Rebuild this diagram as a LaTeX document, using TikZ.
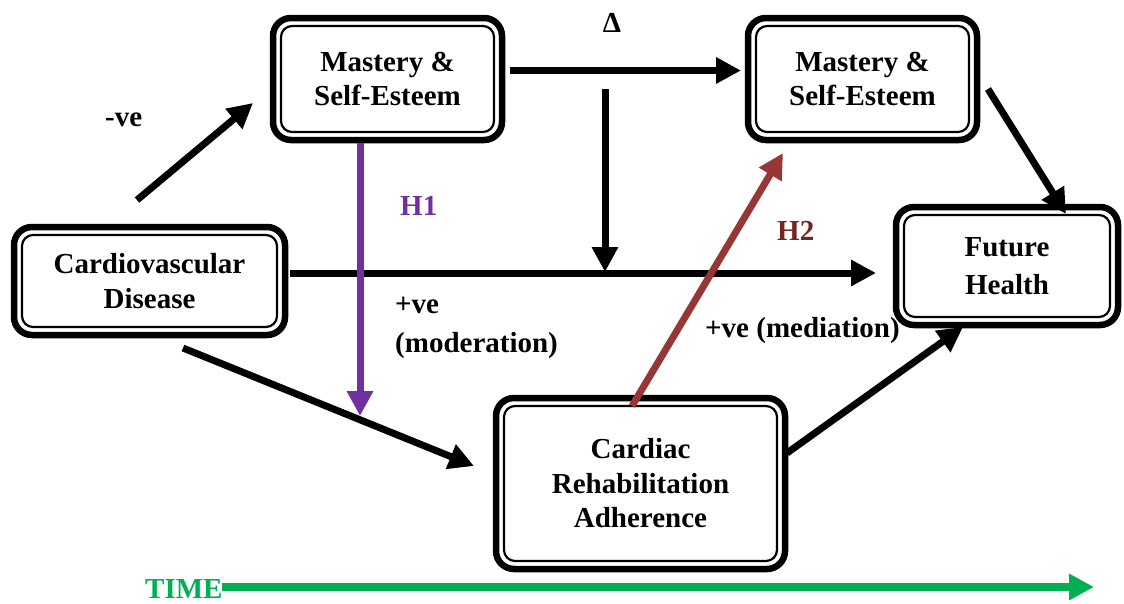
\documentclass[tikz,border=0pt]{standalone}
\usepackage{fontspec}
\setmainfont{Liberation Serif}
\usetikzlibrary{arrows.meta}
\definecolor{hpurple}{HTML}{7030A0}
\definecolor{hbrown}{HTML}{953735}
\definecolor{hbrowntext}{HTML}{722626}
\definecolor{hgreen}{HTML}{00B050}
\begin{document}
\begin{tikzpicture}[x=1pt,y=-1pt,
  box/.style={draw, line width=6.5pt, rounded corners=18pt, outer sep=0pt, inner sep=0pt,
    align=center, font=\fontsize{29}{34.5}\selectfont\bfseries},
  innerline/.style={draw, line width=2.2pt, rounded corners=11pt},
  lbl/.style={inner sep=0pt, font=\fontsize{29}{39}\selectfont\bfseries},
  conn/.style={line width=7pt, -{Triangle[length=25pt,width=25pt]}},
]
\useasboundingbox (0,0) rectangle (1124,603);

% boxes
\node[box, minimum width=229pt, minimum height=122pt] (m1) at (387.5,79) {Mastery \&\\Self-Esteem};
\node[box, minimum width=229pt, minimum height=122pt] (m2) at (862.5,79) {Mastery \&\\Self-Esteem};
\node[box, minimum width=271pt, minimum height=108pt] (cvd) at (149.5,281) {Cardiovascular\\Disease};
\node[box, minimum width=222pt, minimum height=118pt, font=\fontsize{29}{38}\selectfont\bfseries] (fh) at (1007,266) {Future\\Health};
\node[box, minimum width=289pt, minimum height=171pt] (cra) at (640.5,483.5) {Cardiac\\Rehabilitation\\Adherence};

\foreach \b in {m1,m2,cvd,fh,cra}
  \draw[innerline] ([shift={(8,8)}]\b.north west) rectangle ([shift={(-8,-8)}]\b.south east);

% connector end points
\coordinate (negS) at (137,200);
\coordinate (negE) at (253,103);
\coordinate (mmS) at (510,70.5);
\coordinate (mmE) at (741,70.5);
\coordinate (dS) at (605,89);
\coordinate (dE) at (605,272);
\coordinate (hS) at (290,273);
\coordinate (hE) at (876,273);
\coordinate (h1S) at (360,143);
\coordinate (h1E) at (360,416);
\coordinate (ccS) at (183,348);
\coordinate (ccE) at (474,466);
\coordinate (h2S) at (632,406);
\coordinate (h2E) at (783,153);
\coordinate (mfS) at (988,89);
\coordinate (mfE) at (1066,214);
\coordinate (cfS) at (787,453);
\coordinate (cfE) at (963,327);
\coordinate (tS) at (222,587);
\coordinate (tE) at (1094,587);

% connectors
\draw[conn] (negS) -- (negE);
\draw[conn] (mmS) -- (mmE);
\draw[conn] (dS) -- (dE);
\draw[conn] (hS) -- (hE);
\draw[conn, hpurple] (h1S) -- (h1E);
\draw[conn] (ccS) -- (ccE);
\draw[conn, hbrown] (h2S) -- (h2E);
\draw[conn] (mfS) -- (mfE);
\draw[conn] (cfS) -- (cfE);
\draw[conn, hgreen, line width=7.5pt] (tS) -- (tE);

% labels
\node[lbl, anchor=base west] (neg) at (105,126) {-ve};
\node[lbl, anchor=base] (delta) at (612,32) {Δ};
\node[lbl, anchor=base west, text=hpurple] (h1) at (400,215) {H1};
\node[lbl, anchor=base west, text=hbrowntext] (h2) at (777,240) {H2};
\node[lbl, anchor=base west] (mod1) at (395,313) {+ve};
\node[lbl, anchor=base west] (mod2) at (395,352) {(moderation)};
\node[lbl, anchor=base west] (med) at (705,337) {+ve (mediation)};
\node[lbl, anchor=base west, text=hgreen] (time) at (145,598) {TIME};
\end{tikzpicture}
\end{document}
